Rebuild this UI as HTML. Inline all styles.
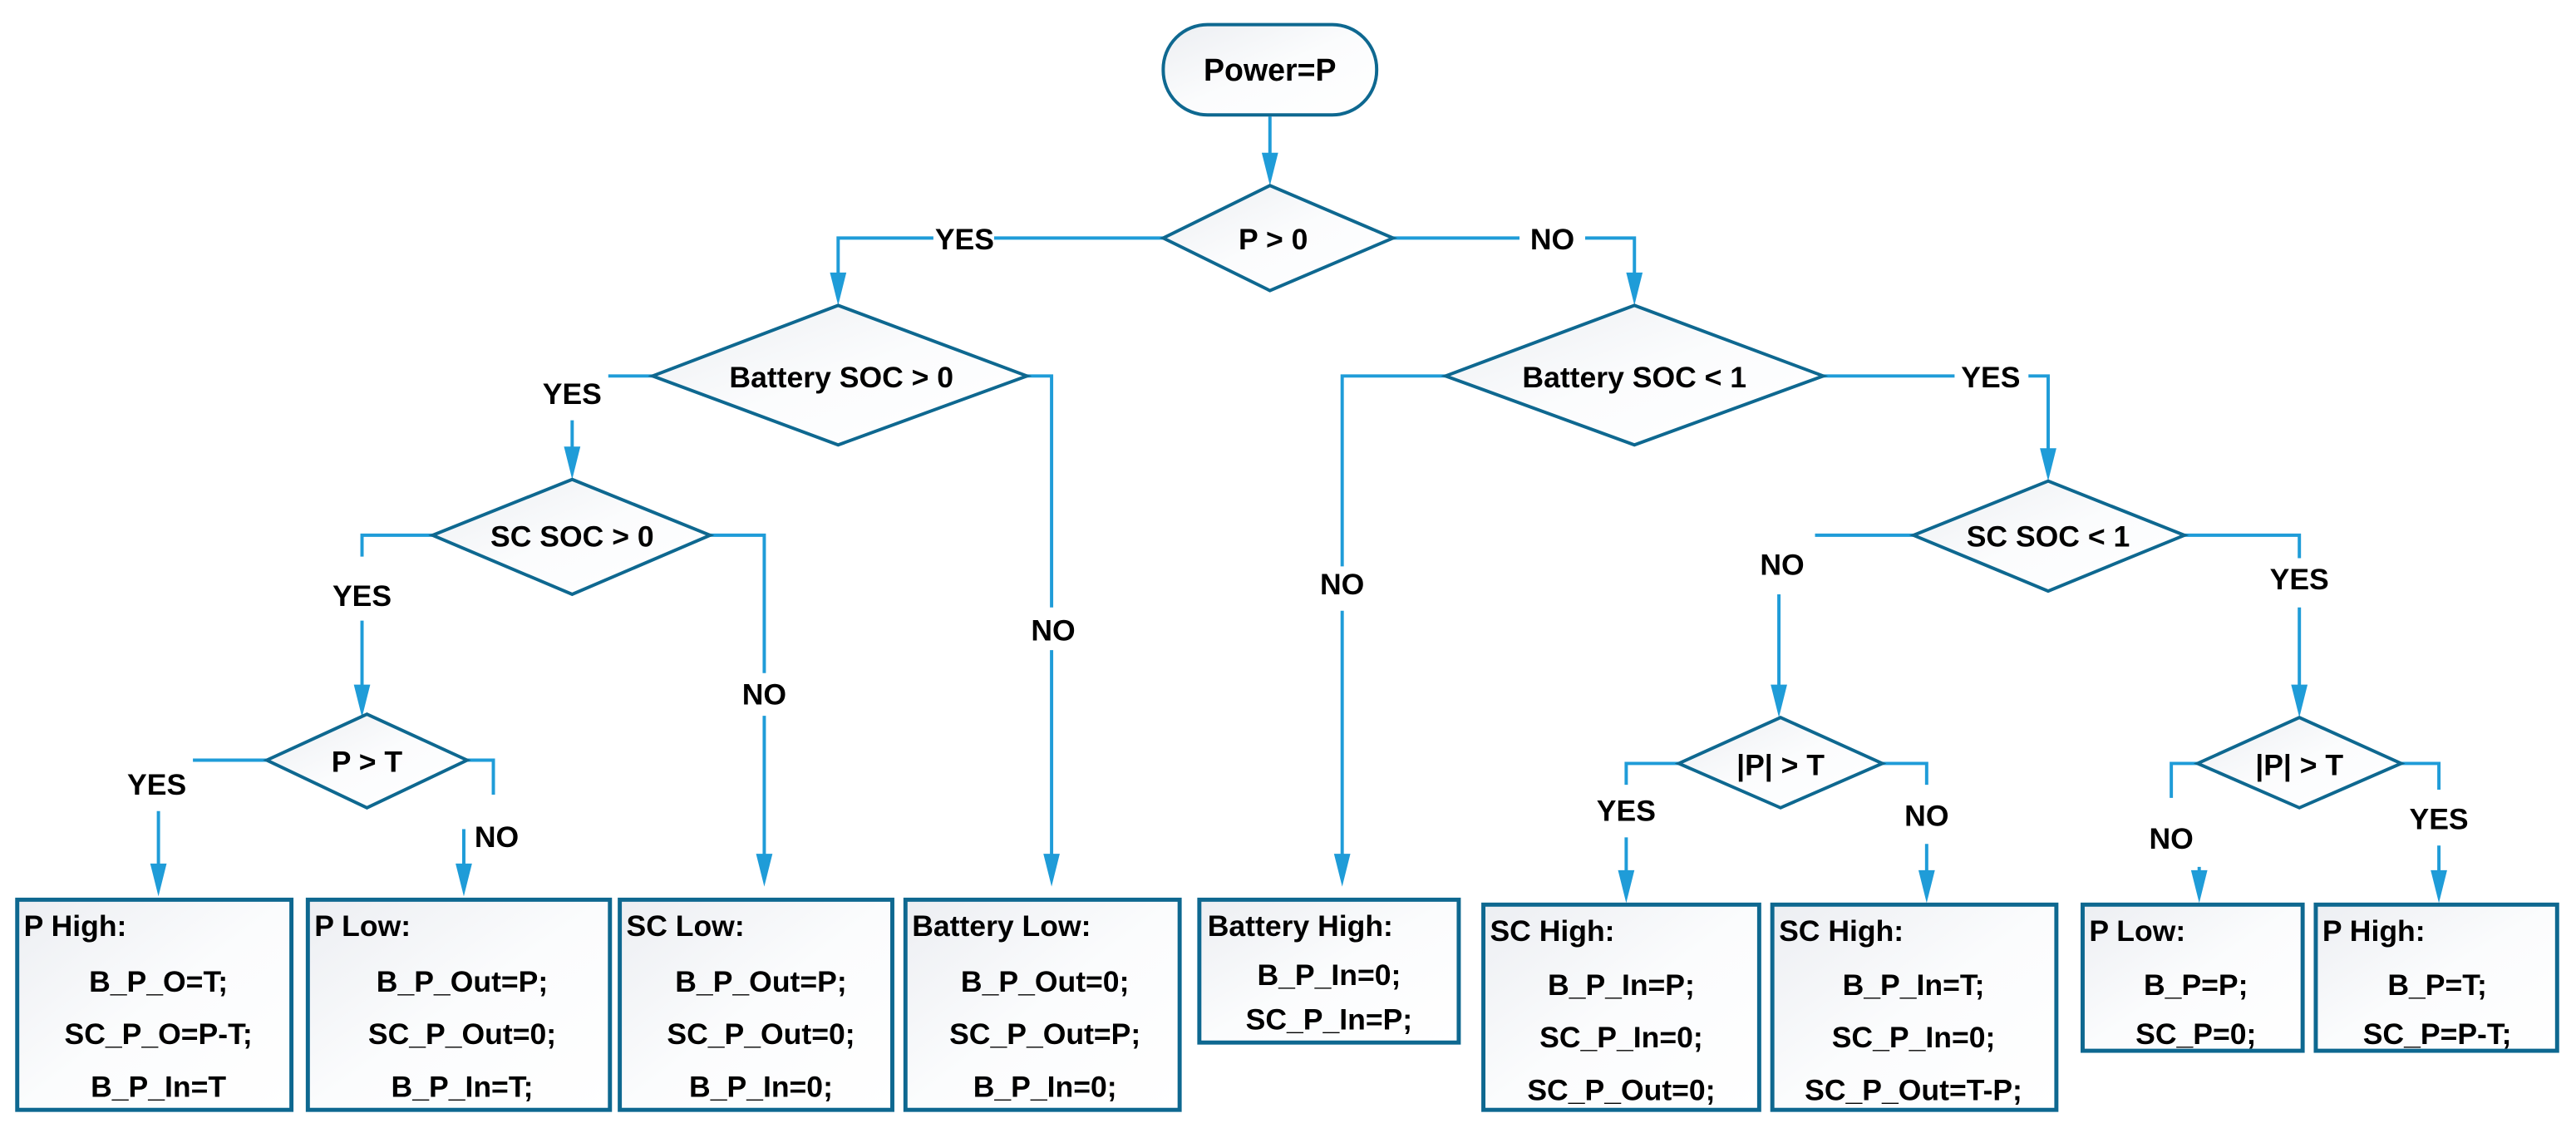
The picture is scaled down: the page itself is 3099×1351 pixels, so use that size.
<!DOCTYPE html>
<html><head><meta charset="utf-8"><style>
html,body{margin:0;padding:0;background:#fff}
svg{display:block}
text{font-family:"Liberation Sans Narrow","Liberation Sans",sans-serif;font-weight:bold;fill:#000;font-size:18px}
.s{fill:url(#g);stroke:#0e6890;stroke-width:2}
.l{stroke:#1f9cd8;stroke-width:2;fill:none}
.h{fill:#1f9cd8}
.c{text-anchor:middle}
</style></head><body>
<svg width="3099" height="1351" viewBox="0 0 1568 684" xmlns="http://www.w3.org/2000/svg">
<defs>
<linearGradient id="g" x1="0" y1="0" x2="1" y2="1"><stop offset="0" stop-color="#eceef2"/><stop offset="0.5" stop-color="#fbfcfd"/><stop offset="1" stop-color="#ffffff"/></linearGradient>
</defs>

<!-- connectors -->
<path class="l" d="M773,71 V100"/>
<path class="l" d="M708,145 H605 M568,145 H510 V172"/>
<text class="c" x="587" y="152">YES</text>
<path class="l" d="M848,145 H925 M965,145 H995 V172"/>
<text class="c" x="945" y="152">NO</text>

<path class="l" d="M397,229 H370"/>
<text class="c" x="348" y="246">YES</text>
<path class="l" d="M348,256 V278"/>
<path class="l" d="M625,229 H640 V370 M640,396 V526"/>
<text class="c" x="641" y="390">NO</text>

<path class="l" d="M263,326 H220 V339"/>
<text class="c" x="220" y="369">YES</text>
<path class="l" d="M220,378 V423"/>
<path class="l" d="M432,326 H465 V410 M465,436 V526"/>
<text class="c" x="465" y="429">NO</text>

<path class="l" d="M162,463 H117"/>
<text class="c" x="95" y="484">YES</text>
<path class="l" d="M96,494 V532"/>
<path class="l" d="M284,463 H300 V484"/>
<text class="c" x="302" y="516">NO</text>
<path class="l" d="M282,505 V532"/>

<path class="l" d="M880,229 H817 V345"/>
<text class="c" x="817" y="362">NO</text>
<path class="l" d="M817,372 V526"/>
<path class="l" d="M1110,229 H1190 M1235,229 H1247 V279"/>
<text class="c" x="1212" y="236">YES</text>

<path class="l" d="M1165,326 H1105"/>
<text class="c" x="1085" y="350">NO</text>
<path class="l" d="M1083,362 V423"/>
<path class="l" d="M1330,326 H1400 V340"/>
<text class="c" x="1400" y="359">YES</text>
<path class="l" d="M1400,370 V423"/>

<path class="l" d="M1022,465 H990 V478"/>
<text class="c" x="990" y="500">YES</text>
<path class="l" d="M990,510 V536"/>
<path class="l" d="M1146,465 H1173 V478"/>
<text class="c" x="1173" y="503">NO</text>
<path class="l" d="M1173,514 V536"/>

<path class="l" d="M1338,465 H1322 V486"/>
<text class="c" x="1322" y="517">NO</text>
<path class="l" d="M1339,528 V536"/>
<path class="l" d="M1462,465 H1485 V481"/>
<text class="c" x="1485" y="505">YES</text>
<path class="l" d="M1485,515 V536"/>

<!-- arrowheads -->
<polygon class="h" points="768,93 778,93 773,113"/>
<polygon class="h" points="505,166 515,166 510,186"/>
<polygon class="h" points="990,166 1000,166 995,186"/>
<polygon class="h" points="343,272 353,272 348,292"/>
<polygon class="h" points="635,520 645,520 640,540"/>
<polygon class="h" points="215,417 225,417 220,437"/>
<polygon class="h" points="460,520 470,520 465,540"/>
<polygon class="h" points="91,526 101,526 96,546"/>
<polygon class="h" points="277,526 287,526 282,546"/>
<polygon class="h" points="812,520 822,520 817,540"/>
<polygon class="h" points="1242,273 1252,273 1247,293"/>
<polygon class="h" points="1078,417 1088,417 1083,437"/>
<polygon class="h" points="1395,417 1405,417 1400,437"/>
<polygon class="h" points="985,530 995,530 990,550"/>
<polygon class="h" points="1168,530 1178,530 1173,550"/>
<polygon class="h" points="1334,530 1344,530 1339,550"/>
<polygon class="h" points="1480,530 1490,530 1485,550"/>

<!-- shapes -->
<rect class="s" x="708" y="15" width="130" height="55" rx="27" ry="27"/>
<text class="c" x="773" y="49" style="font-size:19px">Power=P</text>

<polygon class="s" points="773,113 848,145 773,177 708,145"/>
<text class="c" x="775" y="152">P &gt; 0</text>

<polygon class="s" points="510,186 625,229 510,271 397,229"/>
<text class="c" x="512" y="236">Battery SOC &gt; 0</text>

<polygon class="s" points="348,292 432,326 348,362 263,326"/>
<text class="c" x="348" y="333">SC SOC &gt; 0</text>

<polygon class="s" points="223,435 284,463 223,492 162,463"/>
<text class="c" x="223" y="470">P &gt; T</text>

<polygon class="s" points="995,186 1110,229 995,271 880,229"/>
<text class="c" x="995" y="236">Battery SOC &lt; 1</text>

<polygon class="s" points="1247,293 1330,326 1247,360 1165,326"/>
<text class="c" x="1247" y="333">SC SOC &lt; 1</text>

<polygon class="s" points="1084,437 1146,465 1084,492 1022,465"/>
<text class="c" x="1084" y="472">|P| &gt; T</text>

<polygon class="s" points="1400,437 1462,465 1400,492 1338,465"/>
<text class="c" x="1400" y="472">|P| &gt; T</text>

<!-- boxes -->
<rect class="s" x="10" y="548" width="167" height="128" style="stroke-width:2.5"/>
<text x="14" y="570">P High:</text>
<text class="c" x="96" y="604">B_P_O=T;</text>
<text class="c" x="96" y="636">SC_P_O=P-T;</text>
<text class="c" x="96" y="668">B_P_In=T</text>

<rect class="s" x="187" y="548" width="184" height="128" style="stroke-width:2.5"/>
<text x="191" y="570">P Low:</text>
<text class="c" x="281" y="604">B_P_Out=P;</text>
<text class="c" x="281" y="636">SC_P_Out=0;</text>
<text class="c" x="281" y="668">B_P_In=T;</text>

<rect class="s" x="377" y="548" width="166" height="128" style="stroke-width:2.5"/>
<text x="381" y="570">SC Low:</text>
<text class="c" x="463" y="604">B_P_Out=P;</text>
<text class="c" x="463" y="636">SC_P_Out=0;</text>
<text class="c" x="463" y="668">B_P_In=0;</text>

<rect class="s" x="551" y="548" width="167" height="128" style="stroke-width:2.5"/>
<text x="555" y="570">Battery Low:</text>
<text class="c" x="636" y="604">B_P_Out=0;</text>
<text class="c" x="636" y="636">SC_P_Out=P;</text>
<text class="c" x="636" y="668">B_P_In=0;</text>

<rect class="s" x="730" y="548" width="158" height="87" style="stroke-width:2.5"/>
<text x="735" y="570">Battery High:</text>
<text class="c" x="809" y="600">B_P_In=0;</text>
<text class="c" x="809" y="627">SC_P_In=P;</text>

<rect class="s" x="903" y="551" width="168" height="125" style="stroke-width:2.5"/>
<text x="907" y="573">SC High:</text>
<text class="c" x="987" y="606">B_P_In=P;</text>
<text class="c" x="987" y="638">SC_P_In=0;</text>
<text class="c" x="987" y="670">SC_P_Out=0;</text>

<rect class="s" x="1079" y="551" width="173" height="125" style="stroke-width:2.5"/>
<text x="1083" y="573">SC High:</text>
<text class="c" x="1165" y="606">B_P_In=T;</text>
<text class="c" x="1165" y="638">SC_P_In=0;</text>
<text class="c" x="1165" y="670">SC_P_Out=T-P;</text>

<rect class="s" x="1268" y="551" width="134" height="89" style="stroke-width:2.5"/>
<text x="1272" y="573">P Low:</text>
<text class="c" x="1337" y="606">B_P=P;</text>
<text class="c" x="1337" y="636">SC_P=0;</text>

<rect class="s" x="1410" y="551" width="147" height="89" style="stroke-width:2.5"/>
<text x="1414" y="573">P High:</text>
<text class="c" x="1484" y="606">B_P=T;</text>
<text class="c" x="1484" y="636">SC_P=P-T;</text>
</svg>
</body></html>
